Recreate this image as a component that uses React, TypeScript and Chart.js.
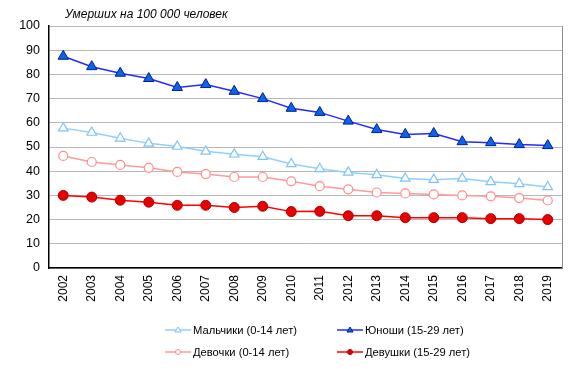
import React, { useEffect, useRef } from "react";
import { Chart, registerables } from "chart.js";

Chart.register(...registerables);

const years = ["2002","2003","2004","2005","2006","2007","2008","2009","2010","2011","2012","2013","2014","2015","2016","2017","2018","2019"];
const boys = [57.8, 56, 53.6, 51.5, 50.2, 48.2, 47, 46, 43, 41, 39.5, 38.5, 37, 36.5, 37, 35.6, 34.8, 33.5];
const youngMen = [87.5, 83.2, 80.5, 78.3, 74.6, 75.8, 73, 70, 66, 64.3, 60.7, 57.2, 55.2, 55.6, 52.2, 51.8, 51, 50.6];
const girls = [46.3, 43.8, 42.6, 41.4, 39.7, 38.8, 37.6, 37.6, 35.8, 33.8, 32.5, 31.2, 30.8, 30.4, 30, 29.6, 28.9, 27.9];
const youngWomen = [30, 29.3, 28, 27.2, 25.9, 25.9, 25, 25.5, 23.3, 23.4, 21.6, 21.6, 20.8, 20.8, 20.8, 20.4, 20.4, 20];
const seriesNames = ["Мальчики (0-14 лет)", "Юноши (15-29 лет)", "Девочки (0-14 лет)", "Девушки (15-29 лет)"];
const titleText = "Умерших на 100 000 человек";

const FONT = "'Liberation Sans', Arial, sans-serif";

const extrasPlugin = {
  id: "extras",
  afterDraw(chart: any) {
    const ctx = chart.ctx;
    const ca = chart.chartArea;
    ctx.save();
    // right border
    ctx.strokeStyle = "#8c8c8c";
    ctx.lineWidth = 1;
    ctx.beginPath();
    ctx.moveTo(Math.round(ca.right) + 0.5, ca.top);
    ctx.lineTo(Math.round(ca.right) + 0.5, ca.bottom);
    ctx.stroke();
    // title
    ctx.fillStyle = "#000";
    ctx.font = `italic 12px ${FONT}`;
    ctx.textBaseline = "middle";
    ctx.textAlign = "left";
    ctx.fillText(titleText, 65, 15);
    // legend
    const pos = [
      [165, 330],
      [337, 330],
      [165, 352],
      [337, 352],
    ];
    chart.data.datasets.forEach((ds: any, i: number) => {
      const [x, y] = pos[i];
      ctx.strokeStyle = ds.borderColor;
      ctx.lineWidth = 1.5;
      ctx.beginPath();
      ctx.moveTo(x, y);
      ctx.lineTo(x + 26, y);
      ctx.stroke();
      ctx.fillStyle = ds.pointBackgroundColor;
      ctx.strokeStyle = ds.pointBorderColor;
      ctx.lineWidth = 1;
      const cx = x + 13;
      ctx.beginPath();
      if (ds.pointStyle === "triangle") {
        ctx.moveTo(cx, y - 3);
        ctx.lineTo(cx + 3, y + 2);
        ctx.lineTo(cx - 3, y + 2);
        ctx.closePath();
      } else {
        ctx.arc(cx, y, 2.5, 0, Math.PI * 2);
      }
      ctx.fill();
      ctx.stroke();
      ctx.fillStyle = "#000";
      ctx.font = `11.2px ${FONT}`;
      ctx.textAlign = "left";
      ctx.textBaseline = "middle";
      ctx.fillText(ds.label, x + 28, y + 0.5);
    });
    ctx.restore();
  },
};

export default function App() {
  const ref = useRef<HTMLCanvasElement>(null);
  useEffect(() => {
    document.body.style.margin = "0";
    const chart = new Chart(ref.current!, {
      type: "line",
      data: {
        labels: years,
        datasets: [
          {
            label: seriesNames[0],
            data: boys,
            borderColor: "#8fd0ff",
            borderWidth: 1.5,
            pointStyle: "triangle",
            pointRadius: 5.5,
            pointBackgroundColor: "#ffffff",
            pointBorderColor: "#7fc4f8",
            pointBorderWidth: 1.2,
          },
          {
            label: seriesNames[1],
            data: youngMen,
            borderColor: "#2828ff",
            borderWidth: 1.5,
            pointStyle: "triangle",
            pointRadius: 6,
            pointBackgroundColor: "#0a64f0",
            pointBorderColor: "#00208c",
            pointBorderWidth: 1,
          },
          {
            label: seriesNames[2],
            data: girls,
            borderColor: "#ff9a9a",
            borderWidth: 1.5,
            pointStyle: "circle",
            pointRadius: 4.5,
            pointBackgroundColor: "#ffffff",
            pointBorderColor: "#ff8c8c",
            pointBorderWidth: 1.2,
          },
          {
            label: seriesNames[3],
            data: youngWomen,
            borderColor: "#ff0000",
            borderWidth: 1.5,
            pointStyle: "circle",
            pointRadius: 5,
            pointBackgroundColor: "#e60000",
            pointBorderColor: "#b00000",
            pointBorderWidth: 1,
          },
        ],
      },
      options: {
        animation: false,
        responsive: false,
        layout: { padding: { left: 0, right: 12, top: 26, bottom: 0 } },
        plugins: {
          legend: { display: false },
          title: { display: false },
          tooltip: { enabled: false },
        },
        scales: {
          x: {
            offset: true,
            grid: { display: false, drawTicks: false },
            border: { color: "#000", width: 1.5 },
            ticks: {
              color: "#000",
              font: { family: FONT, size: 12 },
              maxRotation: 90,
              minRotation: 90,
              padding: 7,
              autoSkip: false,
            },
            afterFit(scale: any) {
              scale.height = 101;
            },
          },
          y: {
            min: 0,
            max: 100,
            grid: { color: "#b8b8b8", drawTicks: false, lineWidth: 1 },
            border: { color: "#000", width: 1.5 },
            ticks: {
              stepSize: 10,
              color: "#000",
              font: { family: FONT, size: 12.5 },
              padding: 9,
            },
            afterFit(scale: any) {
              scale.width = 49;
            },
          },
        },
      },
      plugins: [extrasPlugin],
    });
    return () => chart.destroy();
  }, []);
  return <canvas ref={ref} width={574} height={369} style={{ display: "block" }} />;
}
